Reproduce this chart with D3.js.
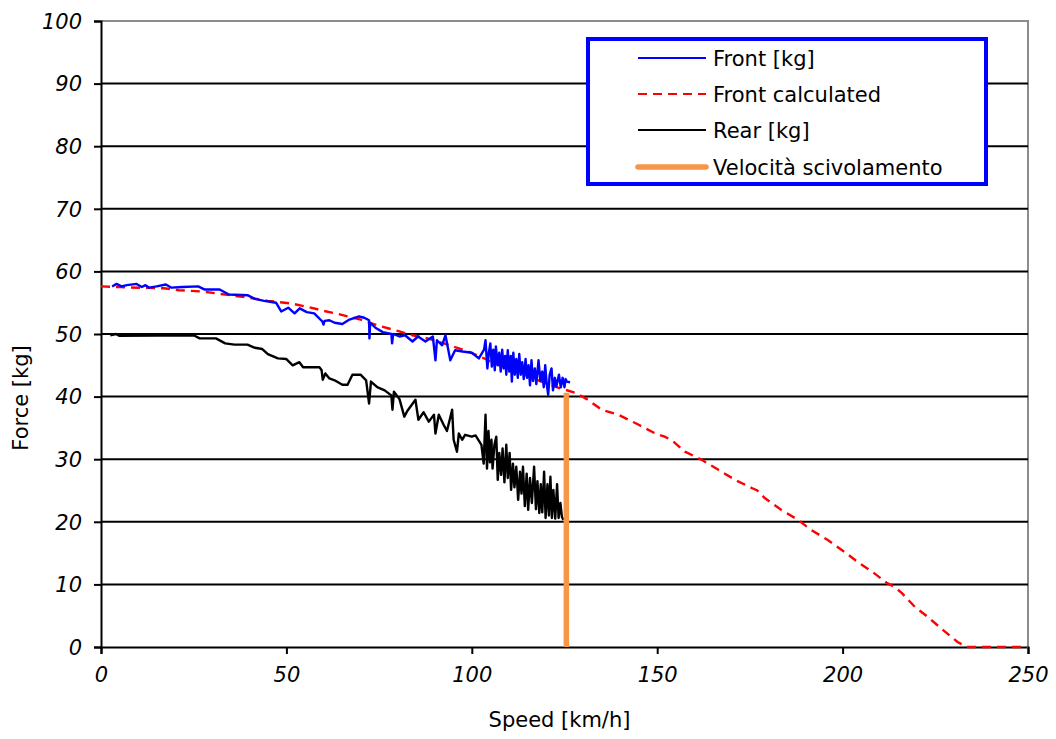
<!DOCTYPE html>
<html>
<head>
<meta charset="utf-8">
<script src="https://cdn.jsdelivr.net/npm/d3@7"></script>
<style>
  html, body { margin: 0; padding: 0; background: #fff; }
  svg { display: block; }
  text { font-family: "DejaVu Sans", Verdana, sans-serif; fill: #000; }
</style>
</head>
<body>
<svg id="chart" width="1056" height="739"></svg>
<script>
// Axis ticks
const xTicks = [0, 50, 100, 150, 200, 250];
const yTicks = [0, 10, 20, 30, 40, 50, 60, 70, 80, 90, 100];

// Measured front load, [speed km/h, force kg]
const frontMeasured = [
  [3,57.6],[4.2,58.0],[5.5,57.6],[7,57.8],[9.6,58.0],[11,57.5],[12,57.8],[13,57.4],[15,57.6],
  [17.5,57.9],[19,57.4],[22,57.5],[26.2,57.6],[28,57.1],[32,57.1],[34.5,56.3],[39.5,56.2],
  [41.5,55.6],[44,55.3],[47.2,55.0],[48.6,53.6],[50.5,54.2],[52.2,53.3],[53.6,54.1],[55.5,53.5],
  [57.5,53.3],[59.7,52.0],[60,51.5],[60.3,52.1],[61.6,52.2],[63,51.8],[65.1,51.6],[67,52.3],
  [69.6,52.8],[71,52.6],[72.3,52.2],[72.4,49.3],[72.6,51.8],[74,51.0],[76,50.3],[78.3,50.0],
  [78.5,48.5],[78.8,50.0],[80.5,49.6],[82,49.8],[84,48.8],[85.5,49.6],[87.5,48.8],[89.5,49.6],
  [90.2,45.8],[90.6,49.0],[92,48.2],[92.9,49.8],[94.2,45.8],[95.5,47.4],[97.5,47.2],[100,47.0],
  [101.9,46.1],[103.3,47.5],[103.7,49.0],[104.2,44.5],[104.6,47.0],[105,48.5],[105.4,44.8],
  [105.8,47.5],[106.2,44.2],[106.5,48.0],[107.0,45.0],[107.4,47.0],[107.8,44.0],[108.2,47.5],
  [108.6,44.5],[109,46.5],[109.3,43.5],[109.7,47.4],[110.1,44.0],[110.5,46.5],[110.8,42.4],
  [111.2,47.0],[111.6,43.5],[112.0,46.0],[112.4,43.0],[112.8,46.8],[113.2,43.5],[113.6,45.5],
  [114.0,42.8],[114.5,46.0],[114.9,43.0],[115.3,45.0],[115.7,41.8],[116.1,45.8],[116.5,42.5],
  [117,44.5],[117.4,42.0],[118,45.8],[118.5,42.5],[119,44.0],[119.4,41.5],[119.8,45.0],
  [120.2,42.0],[120.6,40.3],[121.0,43.5],[121.5,44.5],[121.9,41.0],[122.4,43.0],[122.8,41.6],
  [123.5,43.5],[124,41.5],[124.5,43.0],[125,41.5],[125.3,42.8],[125.6,42.4],[126.5,42.3]
];

// Calculated front load, [speed km/h, force kg]
const frontCalculated = [
  [0,57.6],[5,57.5],[10,57.4],[17,57.3],[21,57.0],[27,56.8],[31,56.5],[36,56.1],[41,55.7],
  [45,55.3],[51,54.9],[56,54.3],[60,53.7],[64,53.2],[70,52.3],[75,51.3],[80,50.5],[84,49.8],
  [88,49.3],[91,48.8],[95,48.0],[99,47.2],[103,46.2],[106,45.3],[110,44.5],[113.5,43.7],
  [117,42.8],[120,42.1],[124,41.3],[128,40.6],[131,39.6],[135,37.9],[139.5,37.1],[145,35.5],
  [149.5,34.1],[152,33.6],[154,33.0],[157.5,31.2],[162,29.9],[166.5,28.3],[171,26.7],
  [175.5,25.4],[177,25.0],[179,23.8],[183.5,21.9],[188,20.3],[191.5,18.7],[196,17.1],
  [200.5,15.2],[204,13.6],[208.5,11.8],[212,10.2],[214,9.6],[216,8.6],[219.5,6.4],[223,4.8],
  [226.5,3.0],[231,0.8],[233.5,0],[250,0]
];

// Measured rear load, [speed km/h, force kg]
const rearMeasured = [
  [2.5,49.8],[4,50.0],[5,49.7],[25,49.8],[26.6,49.3],[31,49.3],[33.5,48.5],[36,48.3],[39.5,48.3],
  [41.5,47.8],[43.5,47.6],[45,46.8],[47.7,46.1],[50,46.0],[51.7,45.0],[53.5,45.5],[54.5,44.7],
  [58.9,44.7],[59.5,44.2],[59.8,42.7],[60.5,43.7],[61.6,42.9],[63,42.6],[65.1,41.9],[66.5,41.9],
  [67.8,43.5],[70,43.5],[71.5,42.6],[72.3,38.9],[72.8,42.4],[74.5,41.5],[76.5,41.0],[78.3,40.2],
  [78.6,37.9],[79.0,40.8],[80.5,39.6],[81.8,36.8],[82.6,37.7],[84.8,39.5],[85.6,36.3],[87,37.5],
  [88.4,36.0],[89.8,37.1],[90.2,34.1],[91.1,37.1],[92.4,35.5],[93.3,34.5],[94.7,37.9],[95.1,33.1],
  [96.0,31.2],[96.5,34.1],[97.4,33.1],[98.2,33.9],[100,33.6],[101,33.8],[102.6,32.3],[103.2,29.3],
  [103.7,37.1],[104.1,28.5],[104.5,34.5],[104.9,29.5],[105.3,33.1],[105.6,28.5],[106.1,32.3],
  [106.6,33.6],[107.0,26.7],[107.4,31.0],[107.9,27.5],[108.3,31.7],[108.8,26.3],[109.3,32.3],
  [109.7,27.0],[110.2,31.0],[110.6,25.1],[111.1,29.3],[111.5,25.5],[112.0,28.8],[112.5,23.5],
  [113.0,28.0],[113.4,24.5],[113.8,28.8],[114.3,22.5],[114.8,27.7],[115.2,21.9],[115.7,27.0],
  [116.2,23.0],[116.8,28.8],[117.3,22.0],[117.7,26.5],[118.2,21.4],[118.6,26.0],[119.0,21.5],
  [119.5,28.0],[119.9,20.6],[120.4,26.0],[120.8,21.0],[121.2,27.2],[121.6,20.6],[122.0,25.1],
  [122.5,20.5],[123.0,26.0],[123.4,20.6],[123.9,23.0],[124.3,20.8],[124.7,20.3]
];

// Slip speed marker, [speed km/h, force from, force to]
const slipSpeed = [125.5, 0, 40.6];

const seriesNames = ["Front [kg]", "Front calculated", "Rear [kg]", "Velocità scivolamento"];

const svg = d3.select("#chart");
const plotLeft = 101, plotRight = 1028, plotTop = 21, plotBottom = 647;

const x = d3.scaleLinear().domain([0, 250]).range([plotLeft, plotRight]);
const y = d3.scaleLinear().domain([0, 100]).range([plotBottom, plotTop]);

// Plot frame: gray top/right edges
svg.append("path")
  .attr("d", `M${plotLeft},${plotTop}H${plotRight}V${plotBottom}`)
  .attr("fill", "none").attr("stroke", "#8c8c8c").attr("stroke-width", 2);

// Horizontal gridlines
svg.append("g").selectAll("line")
  .data(yTicks.filter(d => d > 0 && d < 100))
  .join("line")
  .attr("x1", plotLeft).attr("x2", plotRight)
  .attr("y1", d => y(d)).attr("y2", d => y(d))
  .attr("stroke", "#000").attr("stroke-width", 2);

// Axes
const yAxis = svg.append("g").attr("transform", `translate(${plotLeft},0)`)
  .call(d3.axisLeft(y).tickValues(yTicks).tickSize(7).tickPadding(12).tickFormat(d3.format("d")));
const xAxis = svg.append("g").attr("transform", `translate(0,${plotBottom})`)
  .call(d3.axisBottom(x).tickValues(xTicks).tickSize(7).tickPadding(12).tickFormat(d3.format("d")));

[yAxis, xAxis].forEach(g => {
  g.select(".domain").attr("stroke", "#000").attr("stroke-width", 2);
  g.selectAll(".tick line").attr("stroke", "#000").attr("stroke-width", 2);
  g.selectAll(".tick text")
    .attr("font-family", "DejaVu Sans, sans-serif")
    .attr("font-style", "italic")
    .attr("font-size", 21)
    .attr("fill", "#000");
});
yAxis.selectAll(".tick text").attr("dy", "0.35em");
xAxis.selectAll(".tick text").attr("dy", "0.75em");

// Axis titles
svg.append("text")
  .attr("x", (plotLeft + plotRight) / 2 - 5).attr("y", 727)
  .attr("text-anchor", "middle").attr("font-size", 21)
  .text("Speed [km/h]");
svg.append("text")
  .attr("transform", "translate(28,398) rotate(-90)")
  .attr("text-anchor", "middle").attr("font-size", 21)
  .text("Force [kg]");

const line = d3.line().x(d => x(d[0])).y(d => y(d[1]));

// Series
svg.append("path").datum(rearMeasured)
  .attr("d", line).attr("fill", "none")
  .attr("stroke", "#000").attr("stroke-width", 2.4).attr("stroke-linejoin", "round");

svg.append("path").datum(frontCalculated)
  .attr("d", line).attr("fill", "none")
  .attr("stroke", "#ff0000").attr("stroke-width", 2.4).attr("stroke-dasharray", "9,6");

svg.append("path").datum(frontMeasured)
  .attr("d", line).attr("fill", "none")
  .attr("stroke", "#0000ff").attr("stroke-width", 2.4).attr("stroke-linejoin", "round");

svg.append("line")
  .attr("x1", x(slipSpeed[0])).attr("x2", x(slipSpeed[0]))
  .attr("y1", y(slipSpeed[1])).attr("y2", y(slipSpeed[2]))
  .attr("stroke", "#f79646").attr("stroke-width", 5.5);

// Legend
const legend = svg.append("g");
legend.append("rect")
  .attr("x", 588).attr("y", 39).attr("width", 398).attr("height", 145)
  .attr("fill", "#fff").attr("stroke", "#0000ff").attr("stroke-width", 4);

const legendStyles = [
  { stroke: "#0000ff", width: 2, dash: null, cap: "butt" },
  { stroke: "#ff0000", width: 2.2, dash: "9,6", cap: "butt" },
  { stroke: "#000", width: 2, dash: null, cap: "butt" },
  { stroke: "#f79646", width: 5.5, dash: null, cap: "round" }
];
const rowY = [58, 94, 130, 167];

seriesNames.forEach((name, i) => {
  const s = legendStyles[i];
  legend.append("line")
    .attr("x1", 638).attr("x2", 706)
    .attr("y1", rowY[i]).attr("y2", rowY[i])
    .attr("stroke", s.stroke).attr("stroke-width", s.width)
    .attr("stroke-dasharray", s.dash).attr("stroke-linecap", s.cap);
  legend.append("text")
    .attr("x", 713).attr("y", rowY[i]).attr("dy", "0.36em")
    .attr("font-size", 21)
    .text(name);
});
</script>
</body>
</html>
